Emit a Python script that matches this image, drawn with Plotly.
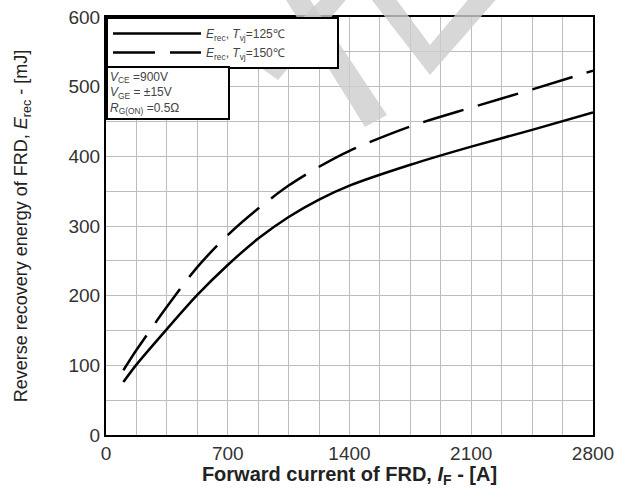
import plotly.graph_objects as go

# ---- data ----
current_a = [100, 175, 350, 525, 700, 875, 1050, 1225, 1400, 1750, 2100, 2450, 2800]
erec_125 = [76, 101, 152, 201, 244, 282, 313, 338, 358, 388, 414, 438, 463]
erec_150 = [93, 122, 184, 241, 287, 325, 358, 385, 408, 443, 470, 496, 523]

x_ticks = [0, 700, 1400, 2100, 2800]
x_ticklabels = ["0", "700", "1400", "2100", "2800"]
x_grid_step = 175
y_ticks = [0, 100, 200, 300, 400, 500, 600]
y_ticklabels = ["0", "100", "200", "300", "400", "500", "600"]
y_grid_step = 50

W, H = 621, 488
L, R, T, B = 106, 28, 17, 53
PW, PH = W - L - R, H - T - B


def px(x, y):
    return (x - L) / PW, (H - B - y) / PH


def poly(points):
    pts = [px(x, y) for x, y in points]
    return "M " + " L ".join(f"{a:.4f},{b:.4f}" for a, b in pts) + " Z"


FONT = "Liberation Sans, Arial"

fig = go.Figure()
fig.add_trace(go.Scatter(
    x=current_a, y=erec_125, mode="lines",
    line=dict(color="black", width=2.5, shape="spline", smoothing=0.8),
    name="<i>E</i><sub>rec</sub>, <i>T</i><sub>vj</sub>=125\u2103              "))
fig.add_trace(go.Scatter(
    x=current_a, y=erec_150, mode="lines",
    line=dict(color="black", width=2.5, dash="42px,15px", shape="spline", smoothing=0.8),
    name="<i>E</i><sub>rec</sub>, <i>T</i><sub>vj</sub>=150\u2103              "))

axis_common = dict(
    showline=True, linecolor="black", linewidth=2, mirror=True,
    showgrid=True, gridcolor="#bdbdbd", gridwidth=1.2, zeroline=False,
    ticks="", automargin=False,
    tickfont=dict(family=FONT, size=19, color="#333"),
)
fig.update_xaxes(range=[0, 2800], tickvals=x_ticks, ticktext=x_ticklabels,
                 minor=dict(tickmode="linear", tick0=0, dtick=x_grid_step, showgrid=True,
                            gridcolor="#bdbdbd", gridwidth=1.2),
                 title=dict(text="<b>Forward current of FRD, <i>I</i><sub>F</sub> - [A]</b>",
                            font=dict(family=FONT, size=20, color="#222"),
                            standoff=2),
                 **axis_common)
fig.update_yaxes(range=[0, 600], tickvals=y_ticks, ticktext=y_ticklabels,
                 minor=dict(tickmode="linear", tick0=0, dtick=y_grid_step, showgrid=True,
                            gridcolor="#bdbdbd", gridwidth=1.2),
                 title=dict(text="Reverse recovery energy of FRD, <i>E</i><sub>rec</sub> - [mJ]",
                            font=dict(family=FONT, size=18, color="#222"),
                            standoff=36),
                 **axis_common)

fig.update_layout(
    width=W, height=H, margin=dict(l=L, r=R, t=T, b=B),
    paper_bgcolor="white", plot_bgcolor="white",
    legend=dict(x=0, y=1, xanchor="left", yanchor="top", bgcolor="white",
                bordercolor="black", borderwidth=2, itemwidth=88,
                font=dict(family=FONT, size=12, color="#444"),
                tracegroupgap=0),
    showlegend=True,
)

fig.add_annotation(
    xref="paper", yref="paper", x=0, y=px(0, 66)[1], xanchor="left", yanchor="top",
    align="left", showarrow=False, bgcolor="white", bordercolor="black", borderwidth=2,
    borderpad=2, width=116, height=46,
    text="<i>V</i><sub>CE</sub> =900V<br><i>V</i><sub>GE</sub> = \u00b115V<br><i>R</i><sub>G(ON)</sub> =0.5\u03a9",
    font=dict(family=FONT, size=12, color="#444"),
)

# watermark (light grey bands)
wm = dict(type="path", xref="paper", yref="paper", fillcolor="rgba(205,205,205,0.8)",
          line=dict(width=0), layer="above")
fig.add_shape(path=poly([(283, -5), (307, -5), (387, 115), (365, 127)]), **wm)
fig.add_shape(path=poly([(325, -5), (350, -5), (278, 80), (257, 65)]), **wm)
fig.add_shape(path=poly([(368, -5), (393, -5), (430, 45), (472, -5), (500, -5), (430, 75)]), **wm)

fig.write_html("out.html", config={"displayModeBar": False},
               post_script="document.body.style.margin='0px';")
